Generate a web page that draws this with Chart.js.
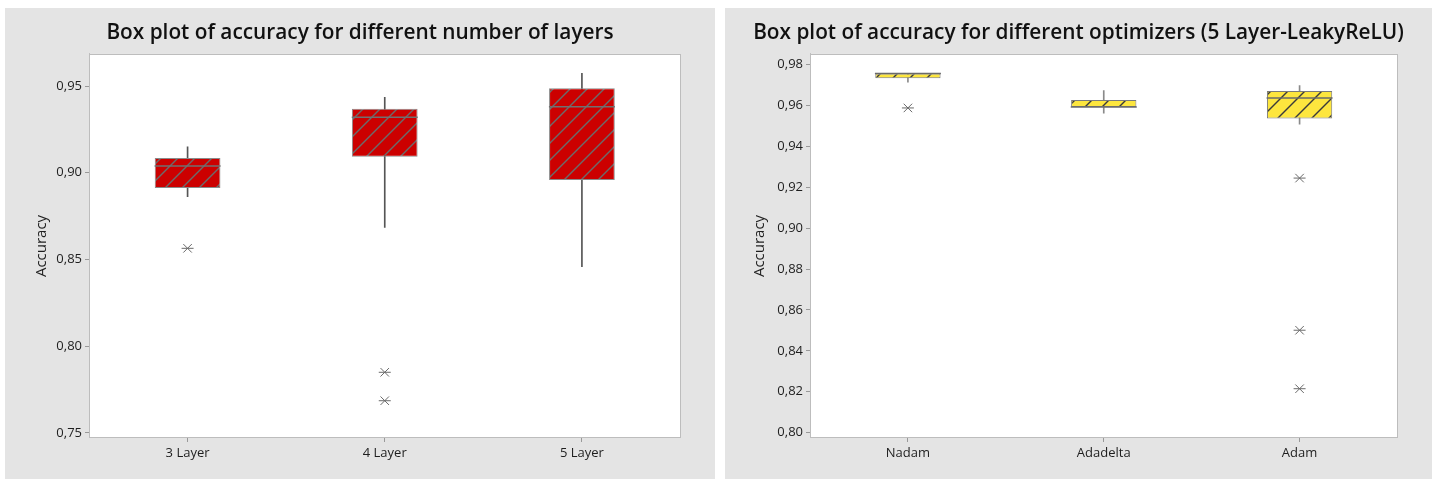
<!DOCTYPE html>
<html>
<head>
<meta charset="utf-8">
<script src="https://cdn.jsdelivr.net/npm/chart.js@4/dist/chart.umd.min.js"></script>
<style>
  html, body { margin: 0; padding: 0; background: #ffffff; }
  body { width: 1437px; height: 479px; position: relative; overflow: hidden; }
  .panel { position: absolute; top: 8px; height: 471px; background: #e4e4e4; }
  #panelL { left: 5px; width: 710px; }
  #panelR { left: 725px; width: 707px; }
  canvas { display: block; }
</style>
</head>
<body>
<div class="panel" id="panelL"><canvas id="chartL" width="710" height="471"></canvas></div>
<div class="panel" id="panelR"><canvas id="chartR" width="707" height="471"></canvas></div>
<script>
// ---- Number of layers ----
const layerCategories = ['3 Layer', '4 Layer', '5 Layer'];
const layerWhiskerLow = [0.8862, 0.8685, 0.8458];
const layerQ1 = [0.8912, 0.9092, 0.8958];
const layerMedian = [0.9039, 0.9320, 0.9381];
const layerQ3 = [0.9085, 0.9369, 0.9487];
const layerWhiskerHigh = [0.9150, 0.9435, 0.9573];
const layerOutlierCategory = ['3 Layer', '4 Layer', '4 Layer'];
const layerOutlierValue = [0.8564, 0.7849, 0.7685];
const layerTicks = [0.75, 0.80, 0.85, 0.90, 0.95];

// ---- Optimizers (5 Layer-LeakyReLU) ----
const optCategories = ['Nadam', 'Adadelta', 'Adam'];
const optWhiskerLow = [0.9714, 0.9562, 0.9509];
const optQ1 = [0.9733, 0.9593, 0.9537];
const optMedian = [0.9756, 0.9593, 0.9637];
const optQ3 = [0.9756, 0.9627, 0.9671];
const optWhiskerHigh = [0.9756, 0.9673, 0.9697];
const optOutlierCategory = ['Nadam', 'Adam', 'Adam', 'Adam'];
const optOutlierValue = [0.9588, 0.9245, 0.8501, 0.8215];
const optTicks = [0.80, 0.82, 0.84, 0.86, 0.88, 0.90, 0.92, 0.94, 0.96, 0.98];

const FONT = "'Open Sans', 'Noto Sans', sans-serif";

// Diagonal hatch fill for the boxes
function hatch(fill, line) {
  const c = document.createElement('canvas');
  c.width = c.height = 17;
  const g = c.getContext('2d');
  g.fillStyle = fill;
  g.fillRect(0, 0, 17, 17);
  g.strokeStyle = line;
  g.lineWidth = 1.4;
  g.beginPath(); g.moveTo(-1, 18); g.lineTo(18, -1); g.stroke();
  g.beginPath(); g.moveTo(-2, 2); g.lineTo(2, -2); g.stroke();
  g.beginPath(); g.moveTo(15, 19); g.lineTo(19, 15); g.stroke();
  return g.createPattern(c, 'repeat');
}

// White plotting area with a thin frame
const plotFrame = {
  id: 'plotFrame',
  beforeDatasetsDraw(chart) {
    const { ctx, chartArea: a } = chart;
    ctx.save();
    ctx.fillStyle = '#ffffff';
    ctx.fillRect(a.left, a.top, a.right - a.left, a.bottom - a.top);
    ctx.strokeStyle = '#bdbdbd';
    ctx.lineWidth = 1;
    ctx.strokeRect(Math.round(a.left) + 0.5, Math.round(a.top) + 0.5,
                   Math.round(a.right - a.left) - 1, Math.round(a.bottom - a.top) - 1);
    ctx.restore();
  }
};

function boxChart(id, cfg) {
  const ranges = (a, b) => a.map((v, i) => [v, b[i]]);
  const outliers = cfg.outCat.map((c, i) => ({ x: c, y: cfg.outVal[i] }));
  const tickSet = new Set(cfg.ticks.map(t => t.toFixed(2)));
  return new Chart(document.getElementById(id), {
    type: 'bar',
    data: {
      labels: cfg.categories,
      datasets: [
        { // whiskers
          data: ranges(cfg.lo, cfg.hi),
          grouped: false, barThickness: 1,
          backgroundColor: cfg.whisker, borderWidth: 0, order: 4
        },
        { // boxes Q1..Q3
          data: ranges(cfg.q1, cfg.q3),
          grouped: false, barPercentage: 1 / 3, categoryPercentage: 1,
          backgroundColor: cfg.pattern, borderColor: cfg.boxBorder,
          borderWidth: 1, borderSkipped: false, order: 3
        },
        { // medians
          type: 'line', data: cfg.med, showLine: false,
          pointStyle: 'line', pointRadius: 33, pointHoverRadius: 33,
          pointBorderColor: cfg.medianColor, pointBorderWidth: 1.5, order: 2
        },
        { // outliers (x part)
          type: 'line', data: outliers, showLine: false,
          pointStyle: 'crossRot', pointRadius: 6, pointHoverRadius: 6,
          pointBorderColor: '#6a6a6a', pointBorderWidth: 1, order: 1
        },
        { // outliers (horizontal stroke)
          type: 'line', data: outliers, showLine: false,
          pointStyle: 'line', pointRadius: 6, pointHoverRadius: 6,
          pointBorderColor: '#6a6a6a', pointBorderWidth: 1, order: 1
        }
      ]
    },
    options: {
      responsive: false,
      animation: false,
      events: [],
      layout: { padding: 0 },
      plugins: {
        legend: { display: false },
        tooltip: { enabled: false },
        title: {
          display: true, text: cfg.title, color: '#111',
          font: { family: FONT, size: 20.8, weight: '600', lineHeight: 1.2 },
          padding: { top: 13, bottom: 8 }
        }
      },
      scales: {
        x: {
          offset: true,
          grid: { drawOnChartArea: false, drawTicks: true, tickLength: 4, color: '#999', offset: false },
          border: { display: true, color: '#bdbdbd' },
          ticks: { color: '#1e1e1e', font: { family: FONT, size: 13 }, padding: 3 },
          afterFit: s => { s.height = 41; }
        },
        y: {
          min: cfg.min, max: cfg.max,
          afterBuildTicks: s => { s.ticks = cfg.ticks.map(v => ({ value: v })); },
          grid: { drawOnChartArea: false, drawTicks: true, tickLength: 4, color: '#999' },
          border: { display: true, color: '#bdbdbd' },
          ticks: {
            color: '#1e1e1e', font: { family: FONT, size: 13 }, padding: 3,
            callback: v => tickSet.has(Number(v).toFixed(2)) ? Number(v).toFixed(2).replace('.', ',') : ''
          },
          title: {
            display: true, text: 'Accuracy', color: '#1e1e1e',
            font: { family: FONT, size: 15 }, padding: { top: cfg.titlePad, bottom: 0 }
          },
          afterFit: s => { s.width = cfg.axisWidth; }
        },
        // empty margin on the right of the plotting area
        yRight: {
          position: 'right', display: true,
          grid: { display: false, drawTicks: false },
          border: { display: false },
          ticks: { display: false },
          afterFit: s => { s.width = 33; }
        }
      }
    },
    plugins: [plotFrame]
  });
}

boxChart('chartL', {
  title: 'Box plot of accuracy for different number of layers',
  categories: layerCategories,
  lo: layerWhiskerLow, q1: layerQ1, med: layerMedian, q3: layerQ3, hi: layerWhiskerHigh,
  outCat: layerOutlierCategory, outVal: layerOutlierValue, ticks: layerTicks,
  min: 0.747, max: 0.9685,
  pattern: hatch('#cc0000', '#6b6b6b'),
  boxBorder: '#8a8a8a', whisker: '#555555', medianColor: '#707070',
  axisWidth: 84, titlePad: 28
});

boxChart('chartR', {
  title: 'Box plot of accuracy for different optimizers (5 Layer-LeakyReLU)',
  categories: optCategories,
  lo: optWhiskerLow, q1: optQ1, med: optMedian, q3: optQ3, hi: optWhiskerHigh,
  outCat: optOutlierCategory, outVal: optOutlierValue, ticks: optTicks,
  min: 0.7974, max: 0.9852,
  pattern: hatch('#fde63e', '#3a3a3a'),
  boxBorder: '#7a7a7a', whisker: '#8a8a8a', medianColor: '#6a6a6a',
  axisWidth: 85, titlePad: 26
});
</script>
</body>
</html>
